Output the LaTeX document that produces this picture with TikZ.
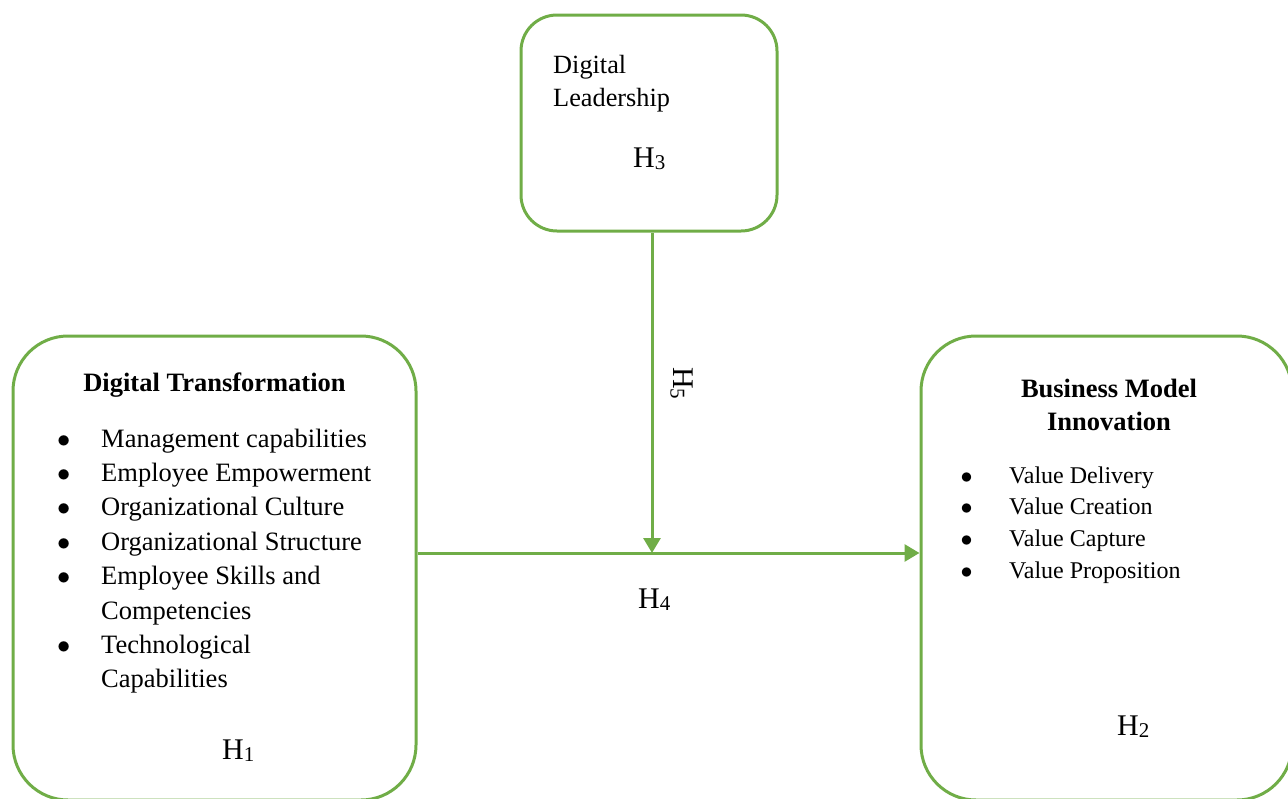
\documentclass[tikz,border=0pt]{standalone}
\usepackage{fix-cm}
\usepackage{fontspec}
\setmainfont{Liberation Serif}
\usetikzlibrary{arrows.meta}
\definecolor{grn}{HTML}{70AD47}
\newcommand\Hlab[1]{H\raisebox{-2.5pt}{\fontsize{21}{21}\selectfont #1}}
\newcommand\bul{$\bullet$}
\begin{document}
\begin{tikzpicture}[x=1pt,y=-1pt,
  box/.style={draw=grn, line width=3pt, rounded corners=#1, inner sep=0, fill=none},
  conn/.style={draw=grn, line width=3pt},
  arr/.style={conn, -{Triangle[width=17pt,length=15pt]}},
  hlab/.style={font=\fontsize{30}{30}\selectfont, inner sep=0, anchor=base west},
  txt/.style={inner sep=0, anchor=base west},
  ttl/.style={inner sep=0, anchor=base, font=\fontsize{26.5}{33}\selectfont\bfseries}]
\useasboundingbox (0,0) rectangle (1288,798);
\clip (0,0) rectangle (1288,798);
% boxes
\node[box=36pt, minimum width=256pt, minimum height=216pt] (dl) at (649,123) {};
\node[box=55pt, minimum width=403pt, minimum height=464pt] (dt) at (214.5,568) {};
\node[box=55pt, minimum width=371pt, minimum height=464pt] (bmi) at (1106.5,568) {};
% top box text
\node[txt, font=\fontsize{26.3}{33}\selectfont] (dltxt) at (553,73)
  {\begin{tabular}[t]{@{}l@{}}Digital\\Leadership\end{tabular}};
\node[hlab] (h3) at (633,167) {\Hlab{3}};
% left box text
\node[ttl] (dtt) at (214.5,391) {Digital Transformation};
\node[txt, font=\fontsize{26.5}{34.4}\selectfont] (dtl) at (57,447)
  {\begin{tabular}[t]{@{}p{44pt}@{}l@{}}
  \bul & Management capabilities\\
  \bul & Employee Empowerment\\
  \bul & Organizational Culture\\
  \bul & Organizational Structure\\
  \bul & Employee Skills and\\
    & Competencies\\
  \bul & Technological\\
    & Capabilities
  \end{tabular}};
\node[hlab] (h1) at (222,759) {\Hlab{1}};
% right box text
\node[ttl] (bmit) at (1109,397)
  {\begin{tabular}[t]{@{}c@{}}Business Model\\Innovation\end{tabular}};
\node[txt, font=\fontsize{24}{31.7}\selectfont] (bmil) at (960.5,483)
  {\begin{tabular}[t]{@{}p{48.5pt}@{}l@{}}
  \bul & Value Delivery\\
  \bul & Value Creation\\
  \bul & Value Capture\\
  \bul & Value Proposition
  \end{tabular}};
\node[hlab] (h2) at (1117,735) {\Hlab{2}};
% connectors
\coordinate (j) at (652,553);
\draw[arr] (dt.east |- j) -- (bmi.west |- j);
\draw[arr] (dl.south -| j) -- (j);
\node[hlab] (h4) at (638,608) {\Hlab{4}};
\node[hlab, rotate=-90] (h5) at (673,367) {\Hlab{5}};
\end{tikzpicture}
\end{document}
